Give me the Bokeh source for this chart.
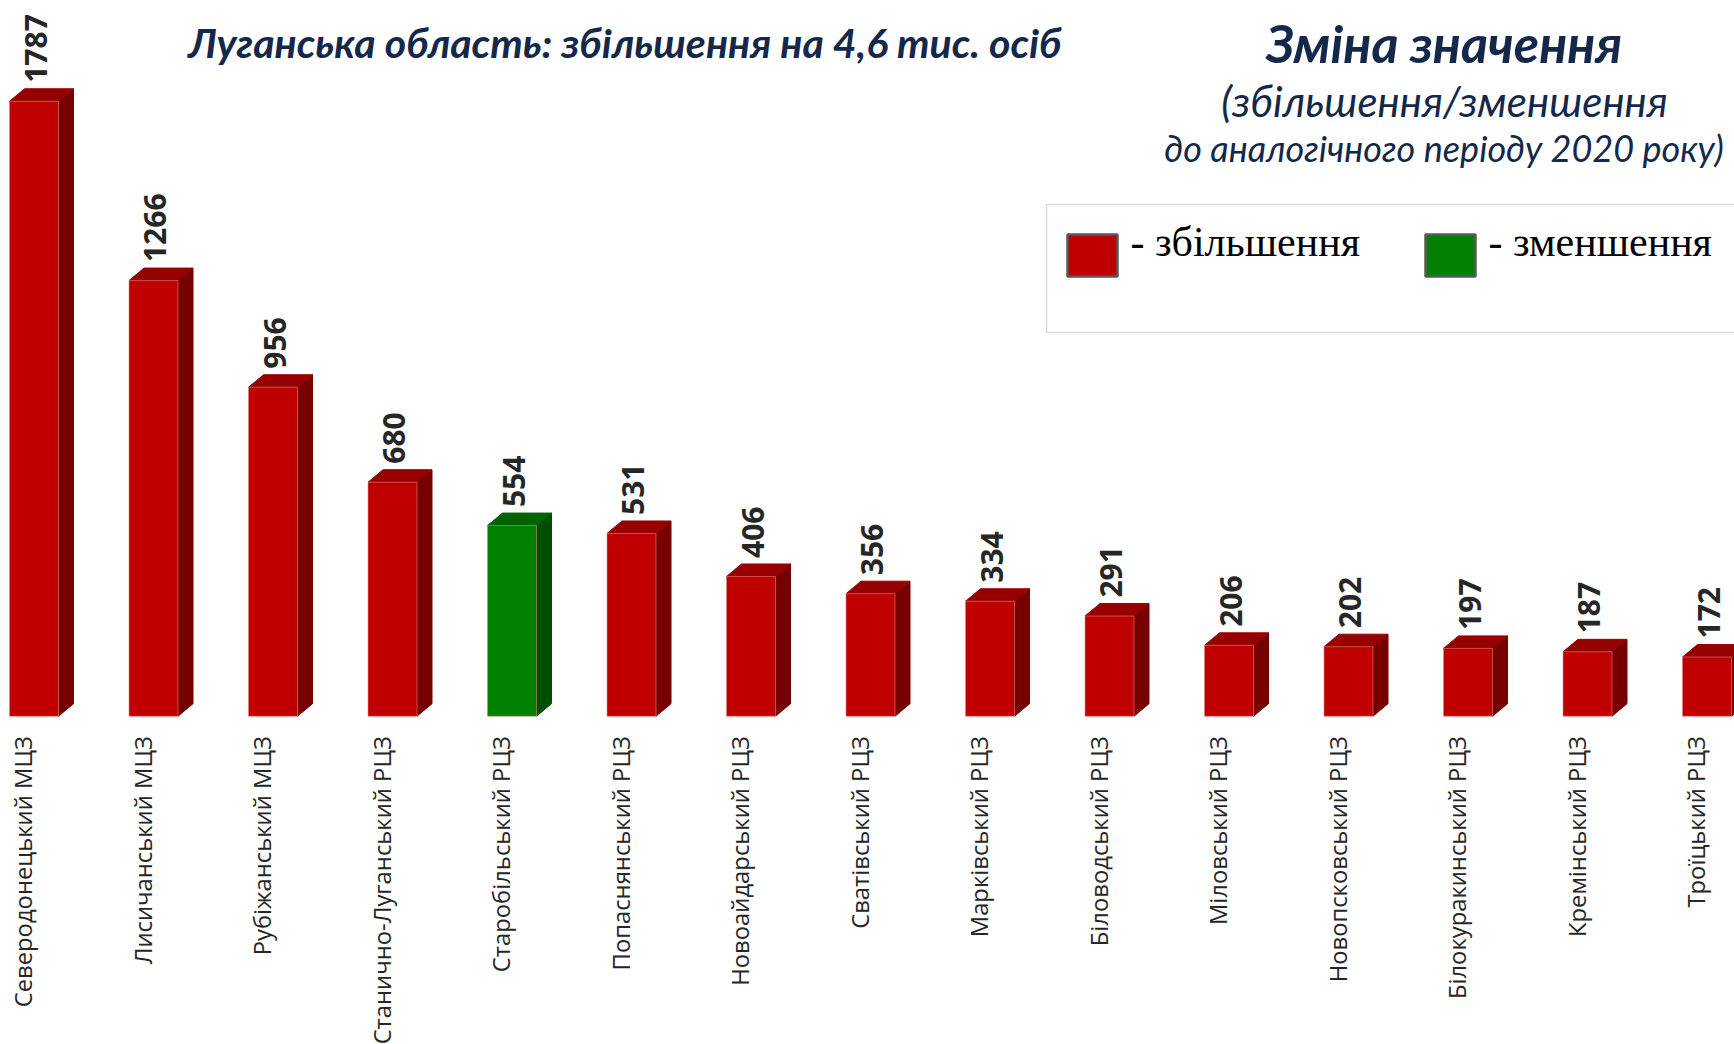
import numpy as np
from bokeh.plotting import figure
from bokeh.models import ColumnDataSource, Label, Range1d
from bokeh.core.properties import value
from bokeh.embed import file_html
from bokeh.resources import INLINE

# ---------------- data ----------------
categories = [
    "Северодонецький МЦЗ", "Лисичанський МЦЗ", "Рубіжанський МЦЗ",
    "Станично-Луганський РЦЗ", "Старобільський РЦЗ", "Попаснянський РЦЗ",
    "Новоайдарський РЦЗ", "Сватівський РЦЗ", "Марківський РЦЗ",
    "Біловодський РЦЗ", "Міловський РЦЗ", "Новопсковський РЦЗ",
    "Білокуракинський РЦЗ", "Кремінський РЦЗ", "Троїцький РЦЗ",
]
values = [1787, 1266, 956, 680, 554, 531, 406, 356, 334, 291, 206, 202, 197, 187, 172]
direction = ["up", "up", "up", "up", "down", "up", "up", "up", "up", "up",
             "up", "up", "up", "up", "up"]

title_text = "Луганська область: збільшення на 4,6 тис. осіб"
head_text = "Зміна значення"
sub1_text = "(збільшення/зменшення"
sub2_text = "до аналогічного періоду 2020 року)"
legend_up = "- збільшення"
legend_down = "- зменшення"

# ---------------- layout / style ----------------
W, H = 1734, 1044
PXX = 119.5          # pixels per category step
PXY = 0.3441         # pixels per unit
X0 = -33.5 / PXX
Y_TOP = 715.7 / PXY

def fx(px):
    return X0 + px / PXX

def fy(py):
    return Y_TOP - py / PXY

BAR_W = 49 / PXX
DX = 15 / PXX
DY = 12.5 / PXY

COLS = {
    "up": ("#C00000", "#960000", "#770000"),
    "down": ("#008000", "#006200", "#004F00"),
}

p = figure(width=W, height=H, output_backend="svg", toolbar_location=None,
           x_range=Range1d(X0, X0 + W / PXX), y_range=Range1d(Y_TOP - H / PXY, Y_TOP),
           min_border=0, outline_line_color=None)
p.axis.visible = False
p.grid.visible = False
p.background_fill_color = "white"
p.border_fill_color = "white"

n = len(values)
xs = np.arange(n, dtype=float)
vals = np.array(values, dtype=float)
front = [COLS[d][0] for d in direction]
topc = [COLS[d][1] for d in direction]
sidec = [COLS[d][2] for d in direction]

side_xs, side_ys, top_xs, top_ys = [], [], [], []
for x, v in zip(xs, vals):
    r = x + BAR_W / 2
    l = x - BAR_W / 2
    side_xs.append([r, r + DX, r + DX, r])
    side_ys.append([0, DY, v + DY, v])
    top_xs.append([l, r, r + DX, l + DX])
    top_ys.append([v, v, v + DY, v + DY])

p.patches(xs=side_xs, ys=side_ys, fill_color=sidec, line_color=sidec, line_width=1)
p.patches(xs=top_xs, ys=top_ys, fill_color=topc, line_color=topc, line_width=1)

src = ColumnDataSource(dict(x=xs, top=vals, color=front))
p.vbar(x="x", top="top", bottom=0, width=BAR_W, source=src,
       fill_color="color", line_color="#e08080", line_alpha=0.6, line_width=1)

# value labels
p.text(x=xs + 1.5 / PXX, y=vals + DY + 6 / PXY, text=[str(v) for v in values],
       angle=np.pi / 2, text_align="left", text_baseline="middle",
       text_font=value("Open Sans"), text_font_style="bold",
       text_font_size="30px", text_color="#262626")

# category labels
p.text(x=xs - 11 / PXX, y=np.full(n, -20 / PXY), text=categories,
       angle=np.pi / 2, text_align="right", text_baseline="middle",
       text_font=value("Open Sans"), text_font_size="23.8px", text_color="#262626")

# titles
NAVY = "#14284B"
p.add_layout(Label(x=fx(188), y=fy(42), text=title_text,
                   text_font="Lato", text_font_style="bold italic",
                   text_font_size="41px", text_color=NAVY,
                   text_align="left", text_baseline="middle"))
p.add_layout(Label(x=fx(1443.5), y=fy(42), text=head_text,
                   text_font="Lato", text_font_style="bold italic",
                   text_font_size="52px", text_color=NAVY,
                   text_align="center", text_baseline="middle"))
p.add_layout(Label(x=fx(1444), y=fy(100), text=sub1_text,
                   text_font="Lato", text_font_style="italic",
                   text_font_size="42px", text_color=NAVY,
                   text_align="center", text_baseline="middle"))
p.add_layout(Label(x=fx(1443.5), y=fy(147), text=sub2_text,
                   text_font="Lato", text_font_style="italic",
                   text_font_size="36px", text_color=NAVY,
                   text_align="center", text_baseline="middle"))

# legend box
p.quad(left=[fx(1046)], right=[fx(1750)], top=[fy(204)], bottom=[fy(332)],
       fill_color="white", line_color="#D9D9D9", line_width=1.5)
p.quad(left=[fx(1067), fx(1425)], right=[fx(1117), fx(1475)],
       top=[fy(234), fy(234)], bottom=[fy(276), fy(276)],
       fill_color=[COLS["up"][0], COLS["down"][0]], line_color="#595959", line_width=2.5)
p.add_layout(Label(x=fx(1130), y=fy(241), text=legend_up,
                   text_font="Liberation Serif", text_font_size="42px",
                   text_color="black", text_align="left", text_baseline="middle"))
p.add_layout(Label(x=fx(1488), y=fy(241), text=legend_down,
                   text_font="Liberation Serif", text_font_size="42px",
                   text_color="black", text_align="left", text_baseline="middle"))

open("out.html", "w").write(file_html(p, INLINE))
